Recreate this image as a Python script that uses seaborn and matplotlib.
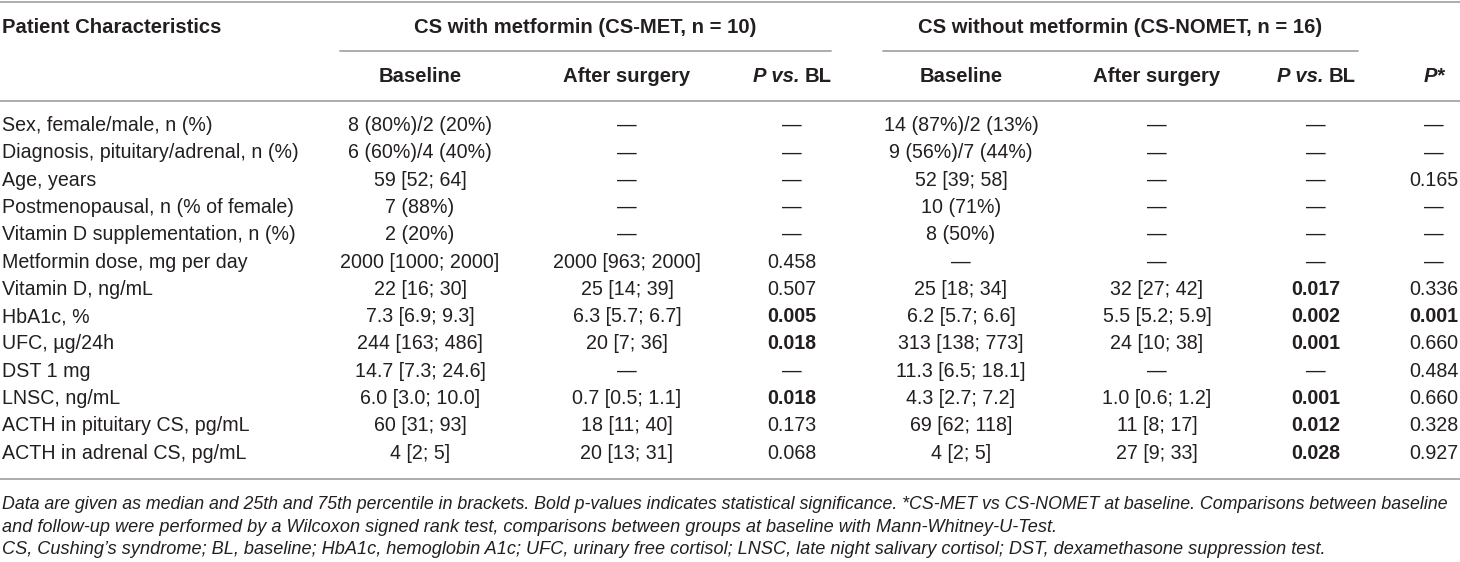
import numpy as np
import pandas as pd
import matplotlib
matplotlib.use("Agg")
import matplotlib.pyplot as plt
import seaborn as sns

# table content
characteristics = [
    "Sex, female/male, n (%)",
    "Diagnosis, pituitary/adrenal, n (%)",
    "Age, years",
    "Postmenopausal, n (% of female)",
    "Vitamin D supplementation, n (%)",
    "Metformin dose, mg per day",
    "Vitamin D, ng/mL",
    "HbA1c, %",
    "UFC, \u00b5g/24h",
    "DST 1 mg",
    "LNSC, ng/mL",
    "ACTH in pituitary CS, pg/mL",
    "ACTH in adrenal CS, pg/mL",
]
D = "\u2014"
met_baseline = ["8 (80%)/2 (20%)", "6 (60%)/4 (40%)", "59 [52; 64]", "7 (88%)", "2 (20%)",
                "2000 [1000; 2000]", "22 [16; 30]", "7.3 [6.9; 9.3]", "244 [163; 486]",
                "14.7 [7.3; 24.6]", "6.0 [3.0; 10.0]", "60 [31; 93]", "4 [2; 5]"]
met_after = [D, D, D, D, D, "2000 [963; 2000]", "25 [14; 39]", "6.3 [5.7; 6.7]", "20 [7; 36]",
             D, "0.7 [0.5; 1.1]", "18 [11; 40]", "20 [13; 31]"]
met_p = [D, D, D, D, D, "0.458", "0.507", "0.005", "0.018", D, "0.018", "0.173", "0.068"]
nomet_baseline = ["14 (87%)/2 (13%)", "9 (56%)/7 (44%)", "52 [39; 58]", "10 (71%)", "8 (50%)",
                  D, "25 [18; 34]", "6.2 [5.7; 6.6]", "313 [138; 773]", "11.3 [6.5; 18.1]",
                  "4.3 [2.7; 7.2]", "69 [62; 118]", "4 [2; 5]"]
nomet_after = [D, D, D, D, D, D, "32 [27; 42]", "5.5 [5.2; 5.9]", "24 [10; 38]", D,
               "1.0 [0.6; 1.2]", "11 [8; 17]", "27 [9; 33]"]
nomet_p = [D, D, D, D, D, D, "0.017", "0.002", "0.001", D, "0.001", "0.012", "0.028"]
p_star = [D, D, "0.165", D, D, D, "0.336", "0.001", "0.660", "0.484", "0.660", "0.328", "0.927"]

group_met = "CS with metformin (CS-MET, n = 10)"
group_nomet = "CS without metformin (CS-NOMET, n = 16)"

footnote = [
    "Data are given as median and 25th and 75th percentile in brackets. Bold p-values indicates "
    "statistical significance. *CS-MET vs CS-NOMET at baseline. Comparisons between baseline",
    "and follow-up were performed by a Wilcoxon signed rank test, comparisons between groups at "
    "baseline with Mann-Whitney-U-Test.",
    "CS, Cushing\u2019s syndrome; BL, baseline; HbA1c, hemoglobin A1c; UFC, urinary free cortisol; "
    "LNSC, late night salivary cortisol; DST, dexamethasone suppression test.",
]
footnote_sizes = [12.8, 13.1, 13.1]

df = pd.DataFrame({
    "label": characteristics,
    "met_base": met_baseline, "met_after": met_after, "met_p": met_p,
    "nomet_base": nomet_baseline, "nomet_after": nomet_after, "nomet_p": nomet_p,
    "p_star": p_star,
})

sns.set_theme(style="white")
plt.rcParams["font.family"] = ["Liberation Sans", "DejaVu Sans"]

TXT = "#231f20"
RULE = "#a6a6a6"
FS = 14.1      # body text
FSH = 14.6     # bold header text

fig = plt.figure(figsize=(14.6, 5.62), dpi=100)
ax = fig.add_axes([0, 0, 1, 1])
ax.set_xlim(0, 1460)
ax.set_ylim(562, 0)
ax.axis("off")

col_x = {"met_base": 420, "met_after": 627, "met_p": 792,
         "nomet_base": 961, "nomet_after": 1157, "nomet_p": 1316, "p_star": 1434}

# rules
for y in [1.5, 100.5, 479]:
    ax.plot([0, 1460], [y, y], color=RULE, lw=1.3, solid_capstyle="butt")
ax.plot([340, 831], [51, 51], color=RULE, lw=1.3)
ax.plot([883, 1358], [51, 51], color=RULE, lw=1.3)

# header
ax.text(2, 27.5, "Patient Characteristics", fontsize=FSH, fontweight="bold", color=TXT,
        ha="left", va="center")
ax.text(585, 27.5, group_met, fontsize=FSH, fontweight="bold", color=TXT, ha="center", va="center")
ax.text(1120, 27.5, group_nomet, fontsize=FSH, fontweight="bold", color=TXT, ha="center", va="center")

renderer = fig.canvas.get_renderer()


def rich(x, y, parts, gap=5):
    texts = [ax.text(0, y, s, fontsize=FSH, color=TXT, ha="left", va="center", **kw)
             for s, kw in parts]
    widths = [t.get_window_extent(renderer).width for t in texts]
    total = sum(widths) + gap * (len(texts) - 1)
    cur = x - total / 2
    for t, w in zip(texts, widths):
        t.set_x(cur)
        cur += w + gap


for key in ["met_base", "met_after", "nomet_base", "nomet_after"]:
    name = "Baseline" if key.endswith("base") else "After surgery"
    ax.text(col_x[key], 76, name, fontsize=FSH, fontweight="bold", color=TXT,
            ha="center", va="center")
for key in ["met_p", "nomet_p"]:
    rich(col_x[key], 76, [("P vs.", dict(fontweight="bold", fontstyle="italic")),
                          ("BL", dict(fontweight="bold"))])
ax.text(col_x["p_star"], 76, "P*", fontsize=FSH, fontweight="bold", fontstyle="italic",
        color=TXT, ha="center", va="center")

# body rows
row_y = 125.5 + 27.3 * np.arange(len(df))
for i, row in df.iterrows():
    y = row_y[i]
    ax.text(2, y, row["label"], fontsize=FS, color=TXT, ha="left", va="center")
    for key, cx in col_x.items():
        val = row[key]
        bold = False
        if key.endswith("_p") or key == "p_star":
            try:
                bold = float(val) < 0.05
            except ValueError:
                bold = False
        ax.text(cx, y, val, fontsize=FS, color=TXT, ha="center", va="center",
                fontweight="bold" if bold else "normal")

# footnote
for j, line in enumerate(footnote):
    ax.text(2, 504.5 + 22.5 * j, line, fontsize=footnote_sizes[j], fontstyle="italic",
            color=TXT, ha="left", va="center")

fig.savefig("out.png", dpi=100)
